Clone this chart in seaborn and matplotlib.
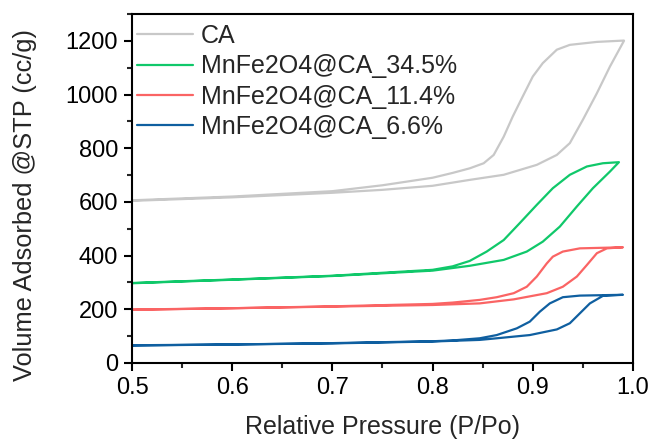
import numpy as np
import pandas as pd
import seaborn as sns
import matplotlib
matplotlib.use("Agg")
import matplotlib.pyplot as plt
from matplotlib.ticker import MultipleLocator

# CA (adsorption up, desorption back down)
ca_ads_p = [0.5, 0.6, 0.7, 0.75, 0.8, 0.837, 0.871, 0.904, 0.924, 0.937, 0.95, 0.964, 0.977, 0.991]
ca_ads_v = [604, 617, 634, 645, 660, 682, 701, 738, 775, 819, 906, 1005, 1104, 1200]
ca_des_p = [0.991, 0.964, 0.937, 0.924, 0.91, 0.9, 0.89, 0.88, 0.871, 0.861, 0.851, 0.837, 0.82, 0.8, 0.75, 0.7, 0.6, 0.5]
ca_des_v = [1201, 1196, 1185, 1167, 1117, 1067, 993, 918, 843, 775, 744, 725, 708, 690, 662, 640, 620, 606]

# MnFe2O4@CA_34.5%
g_ads_p = [0.5, 0.6, 0.7, 0.8, 0.837, 0.871, 0.894, 0.91, 0.927, 0.944, 0.96, 0.977, 0.986]
g_ads_v = [297, 310, 324, 344, 362, 384, 415, 452, 508, 583, 651, 713, 748]
g_des_p = [0.986, 0.97, 0.954, 0.937, 0.92, 0.904, 0.887, 0.871, 0.854, 0.837, 0.82, 0.8, 0.7, 0.6, 0.5]
g_des_v = [748, 744, 732, 701, 651, 589, 521, 458, 415, 380, 360, 347, 325, 311, 298]

# MnFe2O4@CA_11.4%
r_ads_p = [0.5, 0.6, 0.7, 0.8, 0.847, 0.881, 0.914, 0.93, 0.944, 0.954, 0.964, 0.974, 0.99]
r_ads_v = [198, 204, 210, 216, 222, 237, 260, 284, 322, 365, 409, 427, 431]
r_des_p = [0.99, 0.947, 0.93, 0.92, 0.914, 0.904, 0.894, 0.881, 0.864, 0.847, 0.82, 0.8, 0.7, 0.6, 0.5]
r_des_v = [431, 427, 415, 396, 371, 322, 284, 260, 245, 235, 225, 220, 211, 204, 199]

# MnFe2O4@CA_6.6%
b_ads_p = [0.5, 0.6, 0.7, 0.8, 0.847, 0.864, 0.897, 0.924, 0.937, 0.947, 0.957, 0.97, 0.99]
b_ads_v = [65, 69, 73, 80, 86, 92, 104, 125, 148, 185, 222, 250, 254]
b_des_p = [0.99, 0.947, 0.93, 0.917, 0.907, 0.897, 0.884, 0.864, 0.847, 0.82, 0.8, 0.7, 0.6, 0.5]
b_des_v = [254, 251, 245, 222, 191, 154, 129, 104, 92, 84, 81, 74, 69, 66]

labels = ["CA", "MnFe2O4@CA_34.5%", "MnFe2O4@CA_11.4%", "MnFe2O4@CA_6.6%"]
colors = ["#c8c8c8", "#10c86a", "#fa6464", "#0f5fa0"]

curves = [
    (ca_ads_p, ca_ads_v, ca_des_p, ca_des_v),
    (g_ads_p, g_ads_v, g_des_p, g_des_v),
    (r_ads_p, r_ads_v, r_des_p, r_des_v),
    (b_ads_p, b_ads_v, b_des_p, b_des_v),
]

sns.set_style("ticks")
plt.rcParams["font.family"] = ["Liberation Sans", "DejaVu Sans"]

fig = plt.figure(figsize=(6.49, 4.41), dpi=100)
ax = fig.add_axes([0.2034, 0.1769, 0.7719, 0.7914])

for lab, col, (ap, av, dp, dv) in zip(labels, colors, curves):
    df = pd.DataFrame({"P": list(ap) + list(dp), "V": list(av) + list(dv)})
    sns.lineplot(data=df, x="P", y="V", sort=False, estimator=None,
                 color=col, linewidth=1.6, label=lab, ax=ax)

for line in ax.get_lines():
    line.set_solid_joinstyle("round")

ax.set_xlim(0.5, 1.0)
ax.set_ylim(0, 1300)
ax.xaxis.set_major_locator(MultipleLocator(0.1))
ax.xaxis.set_minor_locator(MultipleLocator(0.05))
ax.yaxis.set_major_locator(MultipleLocator(200))
ax.yaxis.set_minor_locator(MultipleLocator(100))
ax.tick_params(which="major", direction="out", length=6, width=1.5, pad=4,
               labelsize=17, colors="black")
ax.tick_params(which="minor", direction="out", length=3.5, width=1.5)
ax.tick_params(top=False, right=False, which="both")
for s in ax.spines.values():
    s.set_linewidth(1.5)
    s.set_color("black")

ax.set_xlabel("Relative Pressure (P/Po)", fontsize=18)
ax.set_ylabel("Volume Adsorbed @STP (cc/g)", fontsize=18.3)
ax.xaxis.set_label_coords(0.5, -0.148)
ax.yaxis.set_label_coords(-0.19, 0.453)

ax.legend(loc="upper left", frameon=False, fontsize=18, handlelength=2.25,
          handletextpad=0.3, labelspacing=0.25, borderaxespad=0.0,
          borderpad=0.2, bbox_to_anchor=(0.0, 0.985))

fig.savefig("out.png", dpi=100)
